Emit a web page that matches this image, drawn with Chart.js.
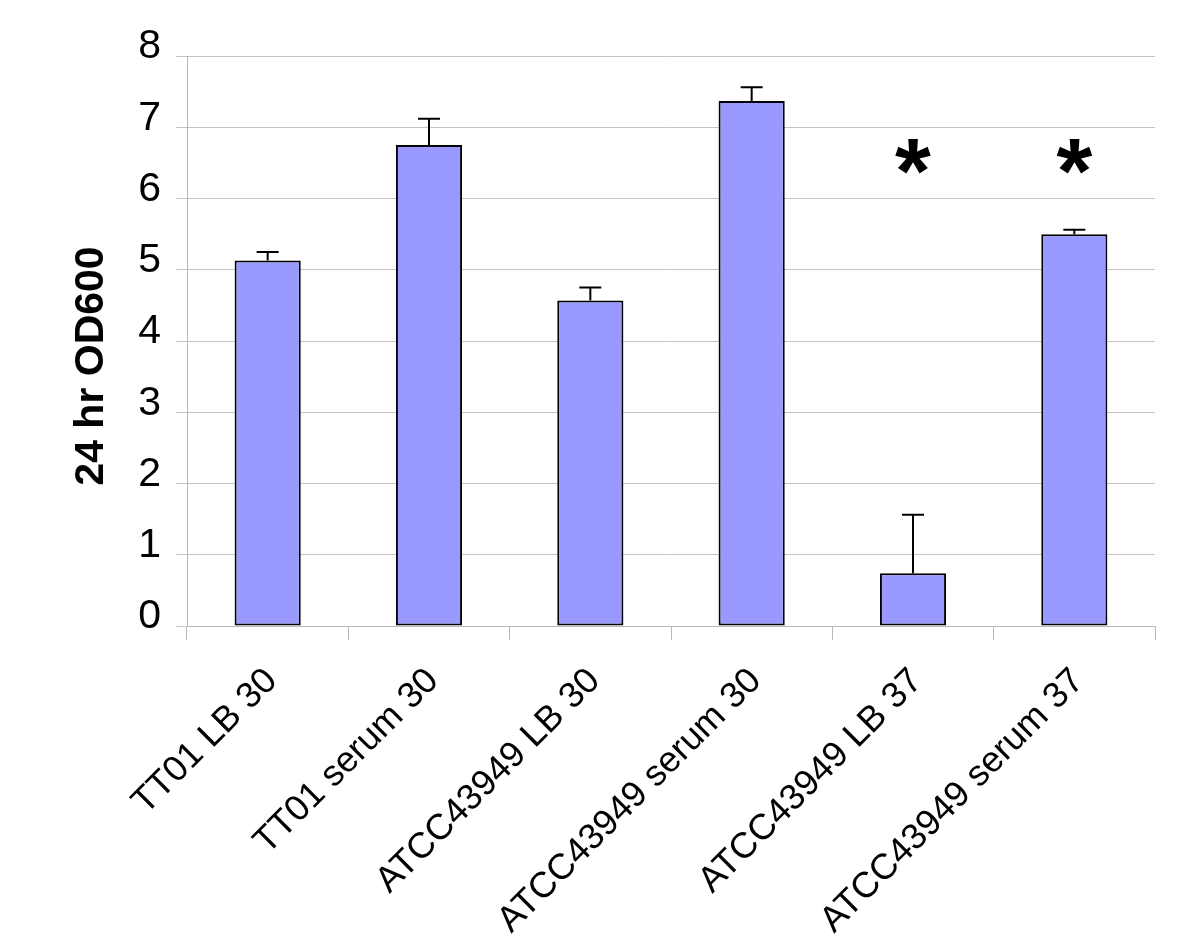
<!DOCTYPE html>
<html>
<head>
<meta charset="utf-8">
<script src="https://cdn.jsdelivr.net/npm/chart.js@4.4.1/dist/chart.umd.min.js"></script>
<style>
  html, body { margin: 0; padding: 0; background: #fff; }
  #wrap { width: 1200px; height: 943px; }
</style>
</head>
<body>
<div id="wrap"><canvas id="odChart" width="1200" height="943"></canvas></div>
<script>
const categories = ['TT01 LB 30', 'TT01 serum 30', 'ATCC43949 LB 30', 'ATCC43949 serum 30', 'ATCC43949 LB 37', 'ATCC43949 serum 37'];
const odValues = [5.13, 6.75, 4.57, 7.37, 0.74, 5.50];
const odErrors = [0.12, 0.37, 0.18, 0.19, 0.82, 0.06];
const significance = ['', '', '', '', '*', '*'];
const yTicks = [0, 1, 2, 3, 4, 5, 6, 7, 8];
const yTitle = '24 hr OD600';

const FONT = '"Liberation Sans", Arial, sans-serif';

// error bars (upper only), stars and the y title
const extras = {
    id: 'extras',
    afterDatasetsDraw(chart) {
        const ctx = chart.ctx;
        const meta = chart.getDatasetMeta(0);
        const y = chart.scales.y;
        ctx.save();
        ctx.strokeStyle = '#000';
        ctx.lineWidth = 2;
        meta.data.forEach((bar, i) => {
            const top = y.getPixelForValue(odValues[i] + odErrors[i]);
            const base = y.getPixelForValue(odValues[i]);
            ctx.beginPath();
            ctx.moveTo(bar.x, base);
            ctx.lineTo(bar.x, top);
            ctx.moveTo(bar.x - 11, top);
            ctx.lineTo(bar.x + 11, top);
            ctx.stroke();
        });
        ctx.fillStyle = '#000';
        ctx.font = 'bold 92px ' + FONT;
        ctx.textAlign = 'center';
        ctx.textBaseline = 'middle';
        significance.forEach((s, i) => {
            if (!s) return;
            ctx.fillText(s, meta.data[i].x, y.getPixelForValue(6.3));
        });

        // axis title, sits a little below the middle of the axis
        const area = chart.chartArea;
        ctx.translate(92, (area.top + area.bottom) / 2 + 25);
        ctx.rotate(-Math.PI / 2);
        ctx.font = 'bold 41px ' + FONT;
        ctx.fillText(yTitle, 0, 0);
        ctx.restore();
    }
};

const ctx = document.getElementById('odChart').getContext('2d');
const odChart = new Chart(ctx, {
    type: 'bar',
    data: {
        labels: categories,
        datasets: [{
            data: odValues,
            backgroundColor: '#9999FF',
            borderColor: '#000',
            borderWidth: 2,
            borderSkipped: false,
            categoryPercentage: 1,
            barPercentage: 0.41
        }]
    },
    options: {
        responsive: false,
        animation: false,
        layout: { padding: { top: 56, right: 45, left: 0, bottom: 0 } },
        plugins: {
            legend: { display: false },
            tooltip: { enabled: false }
        },
        scales: {
            x: {
                grid: { display: true, drawOnChartArea: false, color: '#B8B8B8', tickLength: 14, offset: true },
                border: { color: '#B8B8B8' },
                ticks: {
                    color: '#000',
                    font: { family: FONT, size: 36 },
                    minRotation: 45,
                    maxRotation: 45,
                    padding: 20,
                    labelOffset: 4,
                    autoSkip: false
                },
                afterFit(scale) { scale.height = 943 - 626; }
            },
            y: {
                min: 0,
                max: 8,
                afterBuildTicks(scale) { scale.ticks = yTicks.map(v => ({ value: v })); },
                grid: { color: '#C4C4C4', tickLength: 11 },
                border: { color: '#B8B8B8' },
                ticks: {
                    color: '#000',
                    font: { family: FONT, size: 41 },
                    padding: 15,
                    labelOffset: -9
                },
                afterFit(scale) { scale.width = 187; }
            }
        }
    },
    plugins: [extras]
});
</script>
</body>
</html>
